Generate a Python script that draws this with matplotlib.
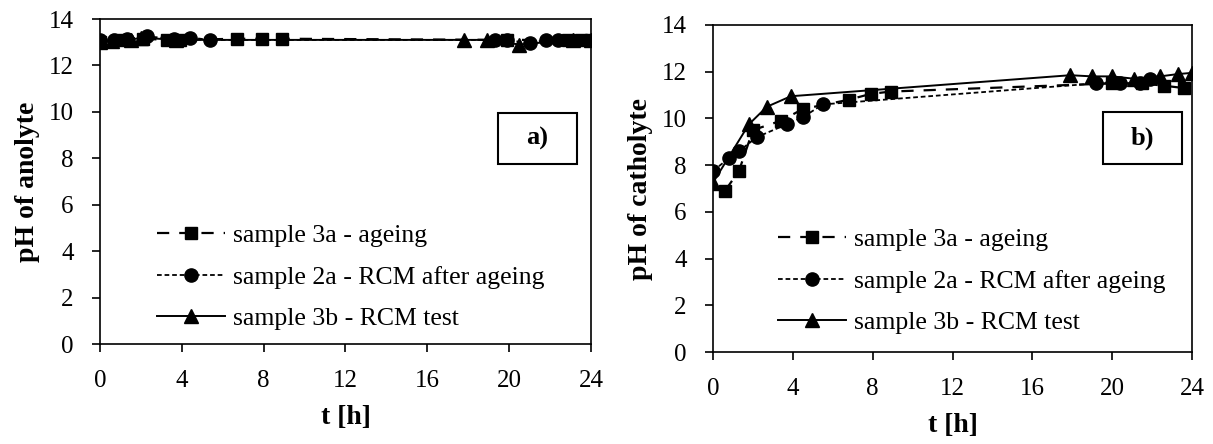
import matplotlib
matplotlib.use('Agg')
import matplotlib.pyplot as plt
from matplotlib.patches import Rectangle

plt.rcParams['font.family'] = ['Liberation Serif', 'DejaVu Serif']

# series labels
labels = ['sample 3a - ageing', 'sample 2a - RCM after ageing', 'sample 3b - RCM test']

# anolyte pH (panel a)
a_3a_t = [0, 0.9, 2.1, 3.3, 3.9, 6.7, 7.9, 8.9, 19.9, 22.9, 23.5, 24.0]
a_3a_ph = [13.0, 13.1, 13.15, 13.1, 13.1, 13.15, 13.15, 13.15, 13.1, 13.1, 13.1, 13.1]
a_2a_t = [0, 0.7, 1.3, 2.3, 3.6, 4.4, 5.4, 19.3, 19.9, 21.0, 21.8, 22.4]
a_2a_ph = [13.1, 13.1, 13.15, 13.25, 13.15, 13.2, 13.1, 13.1, 13.1, 12.95, 13.1, 13.1]
a_3b_t = [0, 0.6, 1.5, 2.0, 3.7, 17.8, 18.9, 20.5, 23.1, 24.0]
a_3b_ph = [13.0, 13.05, 13.1, 13.2, 13.1, 13.1, 13.1, 12.9, 13.1, 13.1]

# catholyte pH (panel b)
b_3a_t = [0.6, 1.3, 2.0, 3.4, 4.5, 6.8, 7.9, 8.9, 20.0, 21.5, 22.6, 23.6]
b_3a_ph = [6.9, 7.75, 9.5, 9.9, 10.4, 10.8, 11.05, 11.15, 11.5, 11.5, 11.4, 11.3]
b_2a_t = [0, 0.8, 1.3, 2.2, 3.7, 4.5, 5.5, 19.2, 20.4, 21.4, 21.9]
b_2a_ph = [7.75, 8.3, 8.6, 9.2, 9.75, 10.05, 10.6, 11.5, 11.5, 11.5, 11.7]
b_3b_t = [0, 1.8, 2.7, 3.9, 17.9, 19.0, 20.0, 21.1, 22.4, 23.3, 24.0]
b_3b_ph = [7.25, 9.75, 10.5, 10.95, 11.85, 11.8, 11.8, 11.7, 11.8, 11.9, 11.95]

xticks = [0, 4, 8, 12, 16, 20, 24]
yticks = [0, 2, 4, 6, 8, 10, 12, 14]


def trace(ax, series, ylabel, tag, leg_xy, box):
    # one panel: three series, legend, framed tag
    styles = [
        dict(marker='s', ms=8.5, ls=(0, (5.5, 4.5)), lw=1.6),
        dict(marker='o', ms=9.5, ls=(0, (2.6, 1.6)), lw=1.3),
        dict(marker='^', ms=10, ls='-', lw=1.4),
    ]
    for (t, ph), st, lab in zip(series, styles, labels):
        ax.plot(t, ph, color='black', mfc='black', mec='black', label=lab, **st)
    ax.set_xlim(0, 24)
    ax.set_ylim(0, 14)
    ax.set_xticks(xticks)
    ax.set_yticks(yticks)
    ax.tick_params(direction='out', length=6, width=1.2, labelsize=18, pad=13)
    for s in ax.spines.values():
        s.set_linewidth(1.2)
    ax.set_xlabel('t [h]', fontsize=20, fontweight='bold', labelpad=9)
    ax.set_ylabel(ylabel, fontsize=20, fontweight='bold', labelpad=6)
    ax.legend(loc='upper left', bbox_to_anchor=leg_xy, frameon=False,
              fontsize=18.5, handlelength=2.65, handletextpad=0.3,
              labelspacing=0.72, borderpad=0, borderaxespad=0)
    x0, x1, y0, y1 = box
    ax.add_patch(Rectangle((x0, y0), x1 - x0, y1 - y0, transform=ax.transAxes,
                           fill=False, ec='black', lw=1.5, zorder=5))
    ax.text((x0 + x1) / 2, (y0 + y1) / 2, tag, transform=ax.transAxes,
            ha='center', va='center', fontsize=19, fontweight='bold')


fig = plt.figure(figsize=(12.13, 4.44), dpi=100)
ax1 = fig.add_axes([0.0824, 0.2252, 0.4048, 0.732])
ax2 = fig.add_axes([0.5878, 0.2072, 0.3949, 0.7365])

trace(ax1, [(a_3a_t, a_3a_ph), (a_2a_t, a_2a_ph), (a_3b_t, a_3b_ph)],
      'pH of anolyte', 'a)', (0.116, 0.368), (0.81, 0.971, 0.554, 0.711))
trace(ax2, [(b_3a_t, b_3a_ph), (b_2a_t, b_2a_ph), (b_3b_t, b_3b_ph)],
      'pH of catholyte', 'b)', (0.136, 0.378), (0.814, 0.979, 0.575, 0.734))

fig.savefig('out.png', dpi=100)
